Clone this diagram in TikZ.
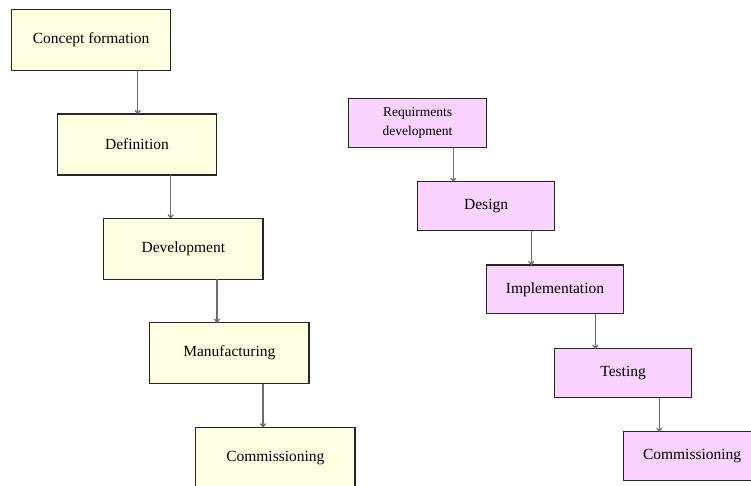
\documentclass[tikz,border=0pt]{standalone}
\usepackage{fontspec}
\setmainfont{Liberation Serif}
\usetikzlibrary{arrows.meta}
\definecolor{yfill}{HTML}{FFFFE4}
\definecolor{pfill}{HTML}{FAD3FF}
\definecolor{lnk}{HTML}{6E6E6E}
\begin{document}
\begin{tikzpicture}[x=1pt,y=-1pt,
  yelbox/.style={draw=black!85, line width=1.1pt, fill=yfill, minimum width=159.3pt, minimum height=61pt, inner sep=0pt, outer sep=0pt, anchor=north west, font=\fontsize{15.5}{18}\selectfont},
  pinkbox/.style={draw=black!85, line width=1.1pt, fill=pfill, minimum width=137.6pt, minimum height=48.8pt, inner sep=0pt, outer sep=0pt, anchor=north west, font=\fontsize{15.5}{18}\selectfont},
  link/.style={draw=lnk, line width=1.3pt, -{To[length=4pt,width=6pt]}}]
\useasboundingbox (0,0) rectangle (751,486);
\clip (0,0) rectangle (751,486);
% left chain
\node[yelbox] (L1) at (11.5,9.3) {Concept formation};
\node[yelbox] (L2) at (57.3,114) {Definition};
\node[yelbox] (L3) at (103.7,218.3) {Development};
\node[yelbox] (L4) at (149.7,322.7) {Manufacturing};
\node[yelbox] (L5) at (195.7,427.3) {Commissioning};
\draw[link] ([xshift=126.2pt]L1.south west) -- ([xshift=126.2pt]L1.south west |- L2.north);
\draw[link] ([xshift=113.4pt]L2.south west) -- ([xshift=113.4pt]L2.south west |- L3.north);
\draw[link] ([xshift=113.3pt]L3.south west) -- ([xshift=113.3pt]L3.south west |- L4.north);
\draw[link] ([xshift=113.3pt]L4.south west) -- ([xshift=113.3pt]L4.south west |- L5.north);
% right chain
\node[pinkbox, align=center, font=\fontsize{13.5}{18.3}\selectfont] (R1) at (348.7,98.7) {Requirments\\development};
\node[pinkbox] (R2) at (417.3,181.7) {Design};
\node[pinkbox] (R3) at (486.2,265) {Implementation};
\node[pinkbox] (R4) at (554.3,348.7) {Testing};
\node[pinkbox] (R5) at (623.3,431.7) {Commissioning};
\draw[link] ([xshift=104.6pt]R1.south west) -- ([xshift=104.6pt]R1.south west |- R2.north);
\draw[link] ([xshift=114pt]R2.south west) -- ([xshift=114pt]R2.south west |- R3.north);
\draw[link] ([xshift=109.1pt]R3.south west) -- ([xshift=109.1pt]R3.south west |- R4.north);
\draw[link] ([xshift=105pt]R4.south west) -- ([xshift=105pt]R4.south west |- R5.north);
\end{tikzpicture}
\end{document}
